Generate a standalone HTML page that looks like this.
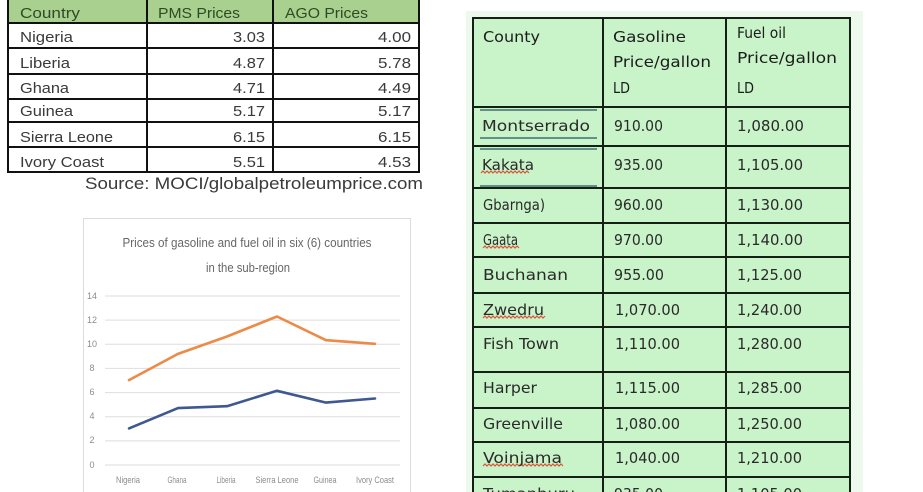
<!DOCTYPE html>
<html><head><meta charset="utf-8"><style>
html,body{margin:0;padding:0;background:#fff;}
svg{display:block;}
</style></head><body>
<svg width="923" height="492" viewBox="0 0 923 492" xmlns="http://www.w3.org/2000/svg">
<rect width="923" height="492" fill="#ffffff"/>

<!-- ============ LEFT TABLE ============ -->
<rect x="8" y="0" width="411" height="23" fill="#a9d08e"/>
<g stroke="#111" stroke-width="2" fill="none">
  <line x1="8" y1="0" x2="8" y2="172"/>
  <line x1="147" y1="0" x2="147" y2="172"/>
  <line x1="273" y1="0" x2="273" y2="172"/>
  <line x1="419" y1="0" x2="419" y2="172"/>
  <line x1="7" y1="23" x2="420" y2="23"/>
  <line x1="7" y1="48" x2="420" y2="48"/>
  <line x1="7" y1="74" x2="420" y2="74"/>
  <line x1="7" y1="99" x2="420" y2="99"/>
  <line x1="7" y1="122" x2="420" y2="122"/>
  <line x1="7" y1="147" x2="420" y2="147"/>
  <line x1="7" y1="172" x2="420" y2="172"/>
</g>
<g font-family="Liberation Sans, sans-serif" font-size="15" fill="#2f4a26">
  <text x="20" y="18" textLength="60" lengthAdjust="spacingAndGlyphs">Country</text>
  <text x="158" y="18" textLength="82" lengthAdjust="spacingAndGlyphs">PMS Prices</text>
  <text x="285" y="18" textLength="83" lengthAdjust="spacingAndGlyphs">AGO Prices</text>
</g>
<g font-family="Liberation Sans, sans-serif" font-size="15" fill="#3a3a3a">
  <text x="20" y="42" textLength="53" lengthAdjust="spacingAndGlyphs">Nigeria</text>
  <text x="20" y="68" textLength="50" lengthAdjust="spacingAndGlyphs">Liberia</text>
  <text x="20" y="93" textLength="49" lengthAdjust="spacingAndGlyphs">Ghana</text>
  <text x="20" y="116" textLength="53" lengthAdjust="spacingAndGlyphs">Guinea</text>
  <text x="20" y="142" textLength="93" lengthAdjust="spacingAndGlyphs">Sierra Leone</text>
  <text x="20" y="167" textLength="84" lengthAdjust="spacingAndGlyphs">Ivory Coast</text>
</g>
<g font-family="Liberation Sans, sans-serif" font-size="15" fill="#3a3a3a" text-anchor="end">
  <text x="265" y="42" textLength="32" lengthAdjust="spacingAndGlyphs">3.03</text>
  <text x="265" y="68" textLength="32" lengthAdjust="spacingAndGlyphs">4.87</text>
  <text x="265" y="93" textLength="32" lengthAdjust="spacingAndGlyphs">4.71</text>
  <text x="265" y="116" textLength="32" lengthAdjust="spacingAndGlyphs">5.17</text>
  <text x="265" y="142" textLength="32" lengthAdjust="spacingAndGlyphs">6.15</text>
  <text x="265" y="167" textLength="32" lengthAdjust="spacingAndGlyphs">5.51</text>
  <text x="411" y="42" textLength="33" lengthAdjust="spacingAndGlyphs">4.00</text>
  <text x="411" y="68" textLength="33" lengthAdjust="spacingAndGlyphs">5.78</text>
  <text x="411" y="93" textLength="33" lengthAdjust="spacingAndGlyphs">4.49</text>
  <text x="411" y="116" textLength="33" lengthAdjust="spacingAndGlyphs">5.17</text>
  <text x="411" y="142" textLength="33" lengthAdjust="spacingAndGlyphs">6.15</text>
  <text x="411" y="167" textLength="33" lengthAdjust="spacingAndGlyphs">4.53</text>
</g>
<text x="85" y="189" font-family="Liberation Sans, sans-serif" font-size="17" fill="#3a3a3a" textLength="338" lengthAdjust="spacingAndGlyphs">Source: MOCI/globalpetroleumprice.com</text>

<!-- ============ CHART ============ -->
<rect x="83.5" y="218.5" width="327" height="290" fill="#fff" stroke="#dcdcdc" stroke-width="1"/>
<g font-family="Liberation Sans, sans-serif" font-size="13" fill="#666" text-anchor="middle">
  <text x="247" y="247" textLength="249" lengthAdjust="spacingAndGlyphs">Prices of gasoline and fuel oil in six (6) countries</text>
  <text x="248" y="272" textLength="84" lengthAdjust="spacingAndGlyphs">in the sub-region</text>
</g>
<g stroke="#dedede" stroke-width="1">
  <line x1="105" y1="296" x2="400" y2="296"/>
  <line x1="105" y1="320.1" x2="400" y2="320.1"/>
  <line x1="105" y1="344.3" x2="400" y2="344.3"/>
  <line x1="105" y1="368.4" x2="400" y2="368.4"/>
  <line x1="105" y1="392.6" x2="400" y2="392.6"/>
  <line x1="105" y1="416.7" x2="400" y2="416.7"/>
  <line x1="105" y1="440.9" x2="400" y2="440.9"/>
  <line x1="105" y1="465" x2="400" y2="465"/>
</g>
<g font-family="Liberation Sans, sans-serif" font-size="9" fill="#8c8c8c" text-anchor="middle">
  <text x="92" y="299">14</text>
  <text x="92" y="323">12</text>
  <text x="92" y="347">10</text>
  <text x="92" y="371">8</text>
  <text x="92" y="395">6</text>
  <text x="92" y="419">4</text>
  <text x="92" y="443">2</text>
  <text x="92" y="468">0</text>
  <text x="128" y="483" textLength="24" lengthAdjust="spacingAndGlyphs">Nigeria</text>
  <text x="177" y="483" textLength="19" lengthAdjust="spacingAndGlyphs">Ghana</text>
  <text x="226" y="483" textLength="19" lengthAdjust="spacingAndGlyphs">Liberia</text>
  <text x="277" y="483" textLength="43" lengthAdjust="spacingAndGlyphs">Sierra Leone</text>
  <text x="325" y="483" textLength="23" lengthAdjust="spacingAndGlyphs">Guinea</text>
  <text x="375" y="483" textLength="38" lengthAdjust="spacingAndGlyphs">Ivory Coast</text>
</g>
<polyline points="129,380.1 178,353.9 227,336.5 277,316.5 326,340.2 375,343.8" fill="none" stroke="#ec8a48" stroke-width="2.6" stroke-linejoin="round" stroke-linecap="round"/>
<polyline points="129,428.4 178,408.1 227,406.2 277,390.8 326,402.6 375,398.5" fill="none" stroke="#3f5891" stroke-width="2.6" stroke-linejoin="round" stroke-linecap="round"/>

<!-- ============ RIGHT TABLE ============ -->
<rect x="466" y="11" width="397" height="481" fill="#ecf9ec"/>
<rect x="473" y="18" width="377" height="474" fill="#c9f3c9"/>
<g stroke="#142014" stroke-width="2" fill="none">
  <line x1="473" y1="17" x2="473" y2="492"/>
  <line x1="603" y1="17" x2="603" y2="492"/>
  <line x1="726" y1="17" x2="726" y2="492"/>
  <line x1="850" y1="17" x2="850" y2="492"/>
  <line x1="472" y1="18" x2="851" y2="18"/>
  <line x1="472" y1="107" x2="851" y2="107"/>
  <line x1="472" y1="146" x2="851" y2="146"/>
  <line x1="472" y1="188" x2="851" y2="188"/>
  <line x1="472" y1="223" x2="851" y2="223"/>
  <line x1="472" y1="257" x2="851" y2="257"/>
  <line x1="472" y1="293" x2="851" y2="293"/>
  <line x1="472" y1="327" x2="851" y2="327"/>
  <line x1="472" y1="372" x2="851" y2="372"/>
  <line x1="472" y1="408" x2="851" y2="408"/>
  <line x1="472" y1="442" x2="851" y2="442"/>
  <line x1="472" y1="477" x2="851" y2="477"/>
</g>
<!-- underline decorations -->
<g stroke="#3f6f74" stroke-width="1.6">
  <line x1="480" y1="110" x2="597" y2="110"/>
  <line x1="480" y1="138" x2="597" y2="138"/>
  <line x1="480" y1="149" x2="597" y2="149"/>
  <line x1="480" y1="186" x2="597" y2="186"/>
</g>
<g stroke="#d8553a" stroke-width="1.2" fill="none">
  <path d="M481 173 l2 -2 l2 2 l2 -2 l2 2 l2 -2 l2 2 l2 -2 l2 2 l2 -2 l2 2 l2 -2 l2 2 l2 -2 l2 2 l2 -2 l2 2 l2 -2 l2 2 l2 -2 l2 2 l2 -2 l2 2 l2 -2 l2 2"/>
  <path d="M483 248 l2 -2 l2 2 l2 -2 l2 2 l2 -2 l2 2 l2 -2 l2 2 l2 -2 l2 2 l2 -2 l2 2 l2 -2 l2 2 l2 -2 l2 2 l2 -2 l2 2"/>
  <path d="M483 318 l2 -2 l2 2 l2 -2 l2 2 l2 -2 l2 2 l2 -2 l2 2 l2 -2 l2 2 l2 -2 l2 2 l2 -2 l2 2 l2 -2 l2 2 l2 -2 l2 2 l2 -2 l2 2 l2 -2 l2 2 l2 -2 l2 2 l2 -2 l2 2 l2 -2 l2 2 l2 -2 l2 2 l2 -2"/>
  <path d="M483 466 l2 -2 l2 2 l2 -2 l2 2 l2 -2 l2 2 l2 -2 l2 2 l2 -2 l2 2 l2 -2 l2 2 l2 -2 l2 2 l2 -2 l2 2 l2 -2 l2 2 l2 -2 l2 2 l2 -2 l2 2 l2 -2 l2 2 l2 -2 l2 2 l2 -2 l2 2 l2 -2 l2 2 l2 -2 l2 2 l2 -2 l2 2 l2 -2 l2 2 l2 -2 l2 2 l2 -2 l2 2"/>
</g>
<g font-family="DejaVu Sans, Liberation Sans, sans-serif" font-size="15" fill="#1c1c1c">
  <text x="483" y="42" textLength="57" lengthAdjust="spacingAndGlyphs">County</text>
  <text x="613" y="42" textLength="73" lengthAdjust="spacingAndGlyphs">Gasoline</text>
  <text x="613" y="67" textLength="98" lengthAdjust="spacingAndGlyphs">Price/gallon</text>
  <text x="613" y="93" textLength="17" lengthAdjust="spacingAndGlyphs">LD</text>
  <text x="737" y="38" textLength="49" lengthAdjust="spacingAndGlyphs">Fuel oil</text>
  <text x="737" y="63" textLength="100" lengthAdjust="spacingAndGlyphs">Price/gallon</text>
  <text x="737" y="93" textLength="17" lengthAdjust="spacingAndGlyphs">LD</text>
</g>
<g font-family="DejaVu Sans, Liberation Sans, sans-serif" font-size="15" fill="#2a2a2a">
  <text x="482" y="131" textLength="108" lengthAdjust="spacingAndGlyphs">Montserrado</text>
  <text x="482" y="170" textLength="52" lengthAdjust="spacingAndGlyphs">Kakata</text>
  <text x="483" y="210" textLength="62" lengthAdjust="spacingAndGlyphs">Gbarnga)</text>
  <text x="483" y="245" textLength="35" lengthAdjust="spacingAndGlyphs">Gaata</text>
  <text x="483" y="280" textLength="85" lengthAdjust="spacingAndGlyphs">Buchanan</text>
  <text x="483" y="315" textLength="61" lengthAdjust="spacingAndGlyphs">Zwedru</text>
  <text x="483" y="349" textLength="76" lengthAdjust="spacingAndGlyphs">Fish Town</text>
  <text x="483" y="393" textLength="54" lengthAdjust="spacingAndGlyphs">Harper</text>
  <text x="483" y="429" textLength="80" lengthAdjust="spacingAndGlyphs">Greenville</text>
  <text x="483" y="463" textLength="79" lengthAdjust="spacingAndGlyphs">Voinjama</text>
  <text x="483" y="499" textLength="92" lengthAdjust="spacingAndGlyphs">Tumanburu</text>

  <text x="614" y="131" textLength="49" lengthAdjust="spacingAndGlyphs">910.00</text>
  <text x="614" y="170" textLength="49" lengthAdjust="spacingAndGlyphs">935.00</text>
  <text x="614" y="210" textLength="49" lengthAdjust="spacingAndGlyphs">960.00</text>
  <text x="614" y="245" textLength="49" lengthAdjust="spacingAndGlyphs">970.00</text>
  <text x="614" y="280" textLength="50" lengthAdjust="spacingAndGlyphs">955.00</text>
  <text x="615" y="315" textLength="65" lengthAdjust="spacingAndGlyphs">1,070.00</text>
  <text x="615" y="349" textLength="65" lengthAdjust="spacingAndGlyphs">1,110.00</text>
  <text x="615" y="393" textLength="65" lengthAdjust="spacingAndGlyphs">1,115.00</text>
  <text x="615" y="429" textLength="65" lengthAdjust="spacingAndGlyphs">1,080.00</text>
  <text x="615" y="463" textLength="65" lengthAdjust="spacingAndGlyphs">1,040.00</text>
  <text x="614" y="499" textLength="49" lengthAdjust="spacingAndGlyphs">935.00</text>

  <text x="737" y="131" textLength="67" lengthAdjust="spacingAndGlyphs">1,080.00</text>
  <text x="737" y="170" textLength="66" lengthAdjust="spacingAndGlyphs">1,105.00</text>
  <text x="737" y="210" textLength="66" lengthAdjust="spacingAndGlyphs">1,130.00</text>
  <text x="737" y="245" textLength="66" lengthAdjust="spacingAndGlyphs">1,140.00</text>
  <text x="737" y="280" textLength="65" lengthAdjust="spacingAndGlyphs">1,125.00</text>
  <text x="737" y="315" textLength="65" lengthAdjust="spacingAndGlyphs">1,240.00</text>
  <text x="737" y="349" textLength="65" lengthAdjust="spacingAndGlyphs">1,280.00</text>
  <text x="737" y="393" textLength="65" lengthAdjust="spacingAndGlyphs">1,285.00</text>
  <text x="737" y="429" textLength="65" lengthAdjust="spacingAndGlyphs">1,250.00</text>
  <text x="737" y="463" textLength="65" lengthAdjust="spacingAndGlyphs">1,210.00</text>
  <text x="737" y="499" textLength="65" lengthAdjust="spacingAndGlyphs">1,105.00</text>
</g>
</svg>
</body></html>
